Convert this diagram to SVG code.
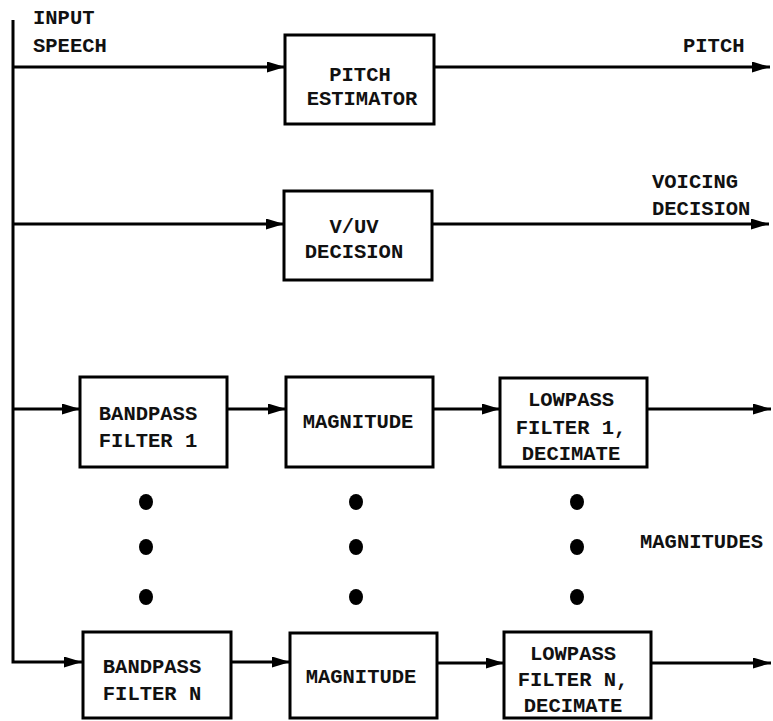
<svg xmlns="http://www.w3.org/2000/svg" width="773" height="721" viewBox="0 0 773 721">
<style>
  .box { fill: #fff; stroke: #000; stroke-width: 3; }
  .ln { fill: none; stroke: #000; stroke-width: 3; }
  .t { font-family: "Liberation Mono", "Courier New", monospace; font-size: 20.5px; font-weight: bold; fill: #111; }
  .c { text-anchor: middle; }
  .dot { fill: #000; }
</style>
<defs>
  <marker id="ah" markerUnits="userSpaceOnUse" markerWidth="18" markerHeight="11" refX="18" refY="5.5" orient="auto">
    <path d="M0,0 L18,5.5 L0,11 z" fill="#000"/>
  </marker>
</defs>
<rect width="773" height="721" fill="#fff"/>
<g id="connectors">
  <path class="ln" d="M13,20 L13,662 L82,662" marker-end="url(#ah)"/>
  <path class="ln" d="M13,67 L285,67" marker-end="url(#ah)"/>
  <path class="ln" d="M434,67 L770,67" marker-end="url(#ah)"/>
  <path class="ln" d="M13,224 L284,224" marker-end="url(#ah)"/>
  <path class="ln" d="M432,224 L769,224" marker-end="url(#ah)"/>
  <path class="ln" d="M13,409 L80,409" marker-end="url(#ah)"/>
  <path class="ln" d="M227,409 L286,409" marker-end="url(#ah)"/>
  <path class="ln" d="M433,409 L500,409" marker-end="url(#ah)"/>
  <path class="ln" d="M647,409 L771,409" marker-end="url(#ah)"/>
  <path class="ln" d="M231,662 L290,662" marker-end="url(#ah)"/>
  <path class="ln" d="M437,663 L504,663" marker-end="url(#ah)"/>
  <path class="ln" d="M651,663 L771,663" marker-end="url(#ah)"/>
</g>
<g id="labels">
  <text class="t" x="33" y="24">INPUT</text>
  <text class="t" x="33" y="52">SPEECH</text>
  <text class="t" x="683" y="52">PITCH</text>
  <text class="t" x="652" y="188">VOICING</text>
  <text class="t" x="652" y="215">DECISION</text>
  <text class="t" x="640" y="548">MAGNITUDES</text>
</g>
<g id="pitch-estimator">
  <rect class="box" x="285" y="35" width="149" height="89"/>
  <text class="t c" x="360" y="81">PITCH</text>
  <text class="t c" x="362" y="105">ESTIMATOR</text>
</g>
<g id="vuv-decision">
  <rect class="box" x="284" y="191" width="148" height="89"/>
  <text class="t c" x="354" y="233">V/UV</text>
  <text class="t c" x="354" y="258">DECISION</text>
</g>
<g id="bandpass-1">
  <rect class="box" x="80" y="377" width="147" height="90"/>
  <text class="t c" x="148" y="420">BANDPASS</text>
  <text class="t c" x="148" y="447">FILTER 1</text>
</g>
<g id="magnitude-1">
  <rect class="box" x="286" y="377" width="147" height="90"/>
  <text class="t c" x="358" y="428">MAGNITUDE</text>
</g>
<g id="lowpass-1">
  <rect class="box" x="500" y="378" width="147" height="89"/>
  <text class="t c" x="571" y="406">LOWPASS</text>
  <text class="t c" x="571" y="434">FILTER 1,</text>
  <text class="t c" x="571" y="460">DECIMATE</text>
</g>
<g id="bandpass-n">
  <rect class="box" x="83" y="632" width="148" height="86"/>
  <text class="t c" x="152" y="673">BANDPASS</text>
  <text class="t c" x="152" y="700">FILTER N</text>
</g>
<g id="magnitude-n">
  <rect class="box" x="290" y="633" width="147" height="85"/>
  <text class="t c" x="361" y="683">MAGNITUDE</text>
</g>
<g id="lowpass-n">
  <rect class="box" x="504" y="632" width="147" height="86"/>
  <text class="t c" x="573" y="660">LOWPASS</text>
  <text class="t c" x="573" y="686">FILTER N,</text>
  <text class="t c" x="573" y="712">DECIMATE</text>
</g>
<g id="ellipsis-dots">
  <ellipse class="dot" cx="146" cy="502" rx="7" ry="8"/>
  <ellipse class="dot" cx="146" cy="547" rx="7" ry="8"/>
  <ellipse class="dot" cx="146" cy="597" rx="7" ry="8"/>
  <ellipse class="dot" cx="356" cy="502" rx="7" ry="8"/>
  <ellipse class="dot" cx="356" cy="547" rx="7" ry="8"/>
  <ellipse class="dot" cx="356" cy="597" rx="7" ry="8"/>
  <ellipse class="dot" cx="577" cy="502" rx="7" ry="8"/>
  <ellipse class="dot" cx="577" cy="547" rx="7" ry="8"/>
  <ellipse class="dot" cx="577" cy="597" rx="7" ry="8"/>
</g>
</svg>
